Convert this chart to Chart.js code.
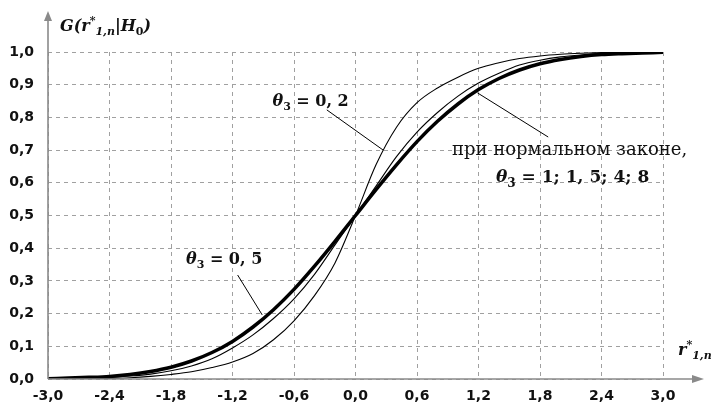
<!DOCTYPE html>
<html>
<head>
<meta charset="utf-8">
<script src="https://cdn.jsdelivr.net/npm/chart.js@4.4.1/dist/chart.umd.min.js"></script>
<style>
  html, body { margin: 0; padding: 0; background: #fff; }
  #wrap { width: 713px; height: 409px; position: relative; }
</style>
</head>
<body>
<div id="wrap"><canvas id="cdf"></canvas></div>
<script>
// r*_{1,n} grid, step 0.2
var xValues = [-3.0, -2.8, -2.6, -2.4, -2.2, -2.0, -1.8, -1.6, -1.4, -1.2, -1.0,
               -0.8, -0.6, -0.4, -0.2, 0.0, 0.2, 0.4, 0.6, 0.8, 1.0,
               1.2, 1.4, 1.6, 1.8, 2.0, 2.2, 2.4, 2.6, 2.8, 3.0];

// normal law (theta3 = 1; 1,5; 4; 8) - the thick curve
var normalLaw = [0.001, 0.003, 0.005, 0.008, 0.014, 0.023, 0.036, 0.055, 0.081, 0.115, 0.159,
                 0.212, 0.274, 0.345, 0.421, 0.500, 0.579, 0.655, 0.726, 0.788, 0.841,
                 0.885, 0.919, 0.945, 0.964, 0.977, 0.986, 0.992, 0.995, 0.997, 0.999];

// theta3 = 0,5
var theta05 = [0.000, 0.001, 0.003, 0.005, 0.009, 0.015, 0.025, 0.040, 0.062, 0.095, 0.135,
               0.185, 0.245, 0.320, 0.410, 0.500, 0.590, 0.680, 0.755, 0.815, 0.865,
               0.905, 0.935, 0.960, 0.975, 0.985, 0.991, 0.995, 0.998, 0.999, 1.000];

// theta3 = 0,2
var theta02 = [0.000, 0.000, 0.001, 0.002, 0.004, 0.008, 0.014, 0.022, 0.035, 0.052, 0.078,
               0.120, 0.178, 0.255, 0.355, 0.500, 0.655, 0.770, 0.845, 0.890, 0.923,
               0.950, 0.967, 0.980, 0.988, 0.993, 0.996, 0.998, 0.999, 1.000, 1.000];

var xTicks = [-3.0, -2.4, -1.8, -1.2, -0.6, 0.0, 0.6, 1.2, 1.8, 2.4, 3.0];
var yTicks = [0.0, 0.1, 0.2, 0.3, 0.4, 0.5, 0.6, 0.7, 0.8, 0.9, 1.0];

function pts(arr) {
    return xValues.map(function (x, i) { return { x: x, y: arr[i] }; });
}
function fmt(v) {
    return (Math.abs(v) < 1e-9 ? 0 : v).toFixed(1).replace(".", ",");
}

var SERIF = "'DejaVu Serif', 'Liberation Serif', serif";

// draws a run of text pieces; s: 'sub' | 'sup', f: css font weight/style
function drawRich(ctx, x, y, parts, size) {
    parts.forEach(function (p) {
        var fs = p.s ? Math.round(size * 0.68) : size;
        var dy = p.s === "sub" ? size * 0.28 : (p.s === "sup" ? -size * 0.42 : 0);
        ctx.font = (p.f || "") + " " + fs + "px " + SERIF;
        ctx.fillText(p.t, x, y + dy);
        x += ctx.measureText(p.t).width;
    });
}

var decor = {
    id: "decor",
    afterDraw: function (chart) {
        var ctx = chart.ctx, a = chart.chartArea;
        var sx = chart.scales.x, sy = chart.scales.y;
        ctx.save();

        // axes with arrows
        ctx.strokeStyle = "#8a8a8a";
        ctx.fillStyle = "#8a8a8a";
        ctx.lineWidth = 1.6;
        ctx.beginPath();
        ctx.moveTo(a.left, a.bottom);
        ctx.lineTo(a.left, 18);
        ctx.moveTo(a.left, a.bottom);
        ctx.lineTo(696, a.bottom);
        ctx.stroke();
        ctx.beginPath();
        ctx.moveTo(a.left, 11);
        ctx.lineTo(a.left - 4, 21);
        ctx.lineTo(a.left + 4, 21);
        ctx.closePath();
        ctx.fill();
        ctx.beginPath();
        ctx.moveTo(704, a.bottom);
        ctx.lineTo(692, a.bottom - 4);
        ctx.lineTo(692, a.bottom + 4);
        ctx.closePath();
        ctx.fill();

        // pointer lines
        ctx.strokeStyle = "#000";
        ctx.lineWidth = 1;
        [[-0.28, 0.823, 0.27, 0.70], [-1.15, 0.318, -0.91, 0.196], [1.88, 0.74, 1.19, 0.875]]
            .forEach(function (l) {
                ctx.beginPath();
                ctx.moveTo(sx.getPixelForValue(l[0]), sy.getPixelForValue(l[1]));
                ctx.lineTo(sx.getPixelForValue(l[2]), sy.getPixelForValue(l[3]));
                ctx.stroke();
            });

        // labels
        ctx.fillStyle = "#111";
        ctx.textBaseline = "alphabetic";
        ctx.textAlign = "left";
        drawRich(ctx, 60, 31, [
            { t: "G(", f: "italic bold" }, { t: "r", f: "italic bold" },
            { t: "*", f: "bold", s: "sup" }, { t: "1,n", f: "italic bold", s: "sub" },
            { t: "|H", f: "italic bold" }, { t: "0", f: "bold", s: "sub" },
            { t: ")", f: "italic bold" }], 16);
        drawRich(ctx, 678, 355, [
            { t: "r", f: "italic bold" }, { t: "*", f: "bold", s: "sup" },
            { t: "1,n", f: "italic bold", s: "sub" }], 16);
        drawRich(ctx, sx.getPixelForValue(-0.81), 106, [
            { t: "θ", f: "italic bold" }, { t: "3", f: "bold", s: "sub" },
            { t: " = 0, 2", f: "bold" }], 16);
        drawRich(ctx, 186, 264, [
            { t: "θ", f: "italic bold" }, { t: "3", f: "bold", s: "sub" },
            { t: " = 0, 5", f: "bold" }], 16);
        drawRich(ctx, 452, 155, [{ t: "при нормальном законе,", f: "" }], 18);
        drawRich(ctx, 496, 182, [
            { t: "θ", f: "italic bold" }, { t: "3", f: "bold", s: "sub" },
            { t: " = 1; 1, 5; 4; 8", f: "bold" }], 17);
        ctx.restore();
    }
};

var line = function (label, arr, width) {
    return {
        label: label, data: pts(arr), borderColor: "#000", borderWidth: width,
        pointRadius: 0, fill: false, cubicInterpolationMode: "monotone"
    };
};

new Chart(document.getElementById("cdf"), {
    type: "line",
    data: {
        datasets: [
            line("θ3 = 0,2", theta02, 1.1),
            line("θ3 = 0,5", theta05, 1.1),
            line("normal", normalLaw, 3.5)
        ]
    },
    options: {
        responsive: true,
        maintainAspectRatio: false,
        animation: false,
        layout: { padding: { left: 0, right: 50, top: 52, bottom: 0 } },
        plugins: { legend: { display: false }, tooltip: { enabled: false } },
        scales: {
            x: {
                type: "linear", min: -3, max: 3,
                afterBuildTicks: function (s) { s.ticks = xTicks.map(function (v) { return { value: v }; }); },
                afterFit: function (s) { s.height = 30; },
                grid: { color: "#a0a0a0", lineWidth: 1, drawTicks: false },
                border: { display: false, dash: [4, 4] },
                ticks: {
                    padding: 9, color: "#111", maxRotation: 0, autoSkip: false,
                    font: { family: "'DejaVu Sans', sans-serif", size: 14, weight: "bold" },
                    callback: function (v) { return fmt(v); }
                }
            },
            y: {
                min: 0, max: 1,
                afterBuildTicks: function (s) { s.ticks = yTicks.map(function (v) { return { value: v }; }); },
                afterFit: function (s) { s.width = 48; },
                grid: { color: "#a0a0a0", lineWidth: 1, drawTicks: false },
                border: { display: false, dash: [4, 4] },
                ticks: {
                    padding: 14, color: "#111", autoSkip: false,
                    font: { family: "'DejaVu Sans', sans-serif", size: 14, weight: "bold" },
                    callback: function (v) { return fmt(v); }
                }
            }
        }
    },
    plugins: [decor]
});
</script>
</body>
</html>
